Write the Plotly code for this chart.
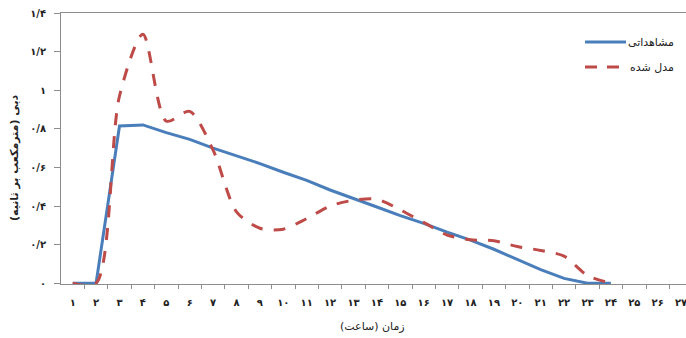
import plotly.graph_objects as go

# Persian digits for labels
FA = str.maketrans("0123456789.", "۰۱۲۳۴۵۶۷۸۹/")

hours = list(range(1, 28))
hour_labels = [str(h).translate(FA) for h in hours]

# Observed discharge (hours 1-24)
observed_hours = list(range(1, 25))
observed = [0, 0, 0.815, 0.82, 0.78, 0.745, 0.70, 0.66, 0.62, 0.575, 0.533, 0.483,
            0.437, 0.395, 0.35, 0.31, 0.265, 0.223, 0.176, 0.125, 0.07, 0.025, 0, 0]

# Modelled discharge (hours 1-24)
modelled_hours = list(range(1, 25))
modelled = [0, 0, 0.97, 1.29, 0.84, 0.89, 0.69, 0.37, 0.285, 0.28, 0.335, 0.40,
            0.43, 0.435, 0.38, 0.315, 0.25, 0.225, 0.22, 0.19, 0.17, 0.14, 0.04, 0]

y_ticks = [0, 0.2, 0.4, 0.6, 0.8, 1.0, 1.2, 1.4]
y_tick_labels = ["۰", "۰/۲", "۰/۴", "۰/۶", "۰/۸", "۱", "۱/۲", "۱/۴"]

series_names = ["مشاهداتی", "مدل شده"]
x_title = "زمان (ساعت)"
y_title = "دبی (مترمکعب بر ثانیه)"

BLUE = "#4A7EBB"
RED = "#BE4B48"
FONT = "DejaVu Sans"

W, H = 686, 338
L, R, T, B = 61, 0, 13, 54
plot_w = W - L - R
plot_h = H - T - B
px_per_hour = 23.4

fig = go.Figure()
fig.add_trace(go.Scatter(
    x=observed_hours, y=observed, mode="lines", name=series_names[0],
    line=dict(color=BLUE, width=3), showlegend=False))
fig.add_trace(go.Scatter(
    x=modelled_hours, y=modelled, mode="lines", name=series_names[1],
    line=dict(color=RED, width=3, dash="12px,11px", shape="spline", smoothing=0.8),
    showlegend=False))


def px_x(px):
    return (px - L) / plot_w


def px_y(py):
    return (T + plot_h - py) / plot_h


# Legend drawn manually: label on the right, line sample on the left
legend_rows = [(series_names[0], BLUE, "solid", 42), (series_names[1], RED, "12px,10px", 67)]
for name, color, dash, py in legend_rows:
    fig.add_shape(type="line", xref="paper", yref="paper",
                  x0=px_x(585), x1=px_x(626), y0=px_y(py), y1=px_y(py),
                  line=dict(color=color, width=3, dash=dash))
    fig.add_annotation(xref="paper", yref="paper", x=px_x(676), y=px_y(py),
                       text=name, showarrow=False, xanchor="right", yanchor="middle",
                       font=dict(family=FONT, size=11, color="#222"))

# Axis titles
fig.add_annotation(xref="paper", yref="paper", x=px_x(372), y=px_y(326),
                   text=x_title, showarrow=False, xanchor="center", yanchor="middle",
                   font=dict(family=FONT, size=11, color="#222"))
fig.add_annotation(xref="paper", yref="paper", x=px_x(14), y=px_y(158),
                   text=y_title, showarrow=False, textangle=-90,
                   xanchor="center", yanchor="middle",
                   font=dict(family=FONT, size=11, color="#222", weight="bold"))

fig.update_layout(
    width=W, height=H,
    margin=dict(l=L, r=R, t=T, b=B),
    paper_bgcolor="white", plot_bgcolor="white",
    font=dict(family=FONT, size=10, color="#222"),
    showlegend=False,
)

fig.update_xaxes(
    range=[0.5, 0.5 + plot_w / px_per_hour],
    tickmode="array", tickvals=hours, ticktext=hour_labels,
    ticks="", showgrid=False, zeroline=False,
    showline=True, linecolor="#8c8c8c", linewidth=1, mirror=True,
    tickfont=dict(family=FONT, size=10, color="#222", weight="bold"),
    ticklabelstandoff=9, ticklabeloverflow="allow",
    minor=dict(ticks="outside", tickvals=[h + 0.5 for h in hours], ticklen=4,
               tickcolor="#8c8c8c", showgrid=False),
)
fig.update_yaxes(
    range=[-0.004, 1.4],
    tickmode="array", tickvals=y_ticks, ticktext=y_tick_labels,
    ticks="outside", ticklen=6, tickcolor="#8c8c8c",
    showgrid=False, zeroline=False,
    showline=True, linecolor="#8c8c8c", linewidth=1,
    tickfont=dict(family=FONT, size=10, color="#222", weight="bold"),
    ticklabelstandoff=6,
)

fig.write_html("out.html")
